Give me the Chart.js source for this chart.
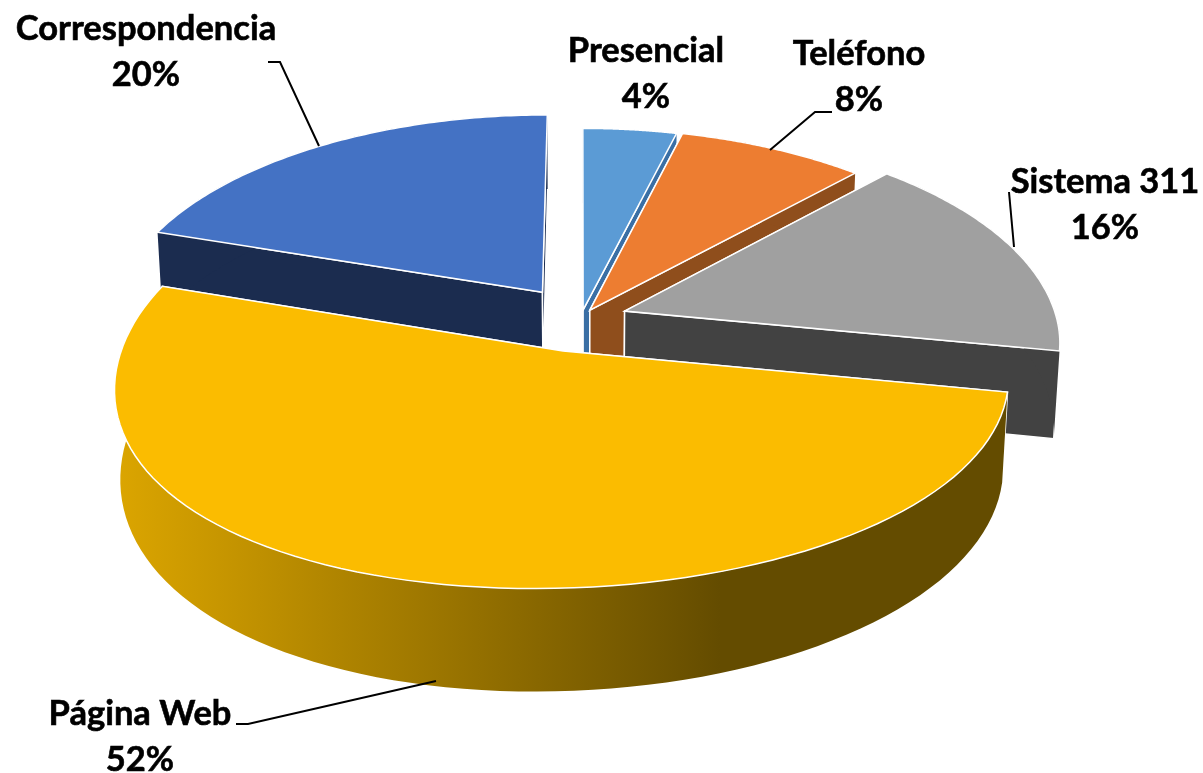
<!DOCTYPE html>
<html lang="es">

<head>
    <meta charset="UTF-8">
    <title>Canales de atencion</title>
    <script src="https://cdn.jsdelivr.net/npm/chart.js"></script>
    <style>
        body { margin: 0; background: #fff; }
        #grafico { display: block; }
    </style>
</head>

<body>
    <canvas id="grafico" width="1203" height="773"></canvas>
</body>
<script>
    var categorias = ['Presencial', 'Teléfono', 'Sistema 311', 'Página Web', 'Correspondencia'];
    var valores = [4, 8, 16, 52, 20];

    var coloresTapa = ['#5B9BD5', '#ED7D31', '#A0A0A0', '#FBBC00', '#4472C4'];
    var coloresLado = ['#3A6FA5', '#8F4E1C', '#424242', '#645000', '#1B2C4F'];
    var separacion = [46, 50, 125, 187, 181];

    // vista 3D de la torta (perspectiva)
    var vista = { cx: 581, cy: 318, rx: 432, ry: 210, q: 0.145, qFrente: 0.09, corte: -16, alto: 87, t: 0.012 };

    // posicion de las etiquetas y sus lineas guia
    var etiquetas = [
        { x: 646, y: 62, guia: null },
        { x: 859, y: 65, guia: [[832, 112], [815, 112], [770, 150]] },
        { x: 1105, y: 193, guia: [[1009, 192], [1014, 247]] },
        { x: 140, y: 725, guia: [[236, 724], [248, 724], [436, 681]] },
        { x: 146, y: 40, guia: [[268, 62], [280, 62], [319, 146]] }
    ];
    var ordenDibujo = [0, 1, 2, 4, 3];

    function proyectar(u, v, z) {
        var s = 1 / (1 - vista.q * v + vista.t * z);
        var sy = v < 0 ? 1 / (1 - vista.q * v) : 1 / (1 - vista.qFrente * v);
        var corte = v > 0 ? vista.corte * v * v : 0;
        return [vista.cx + (vista.rx * u + corte) * s, vista.cy + vista.ry * v * sy + vista.alto * z * s];
    }

    function trazar(ctx, puntos) {
        ctx.beginPath();
        puntos.forEach(function (p, i) {
            if (i == 0) ctx.moveTo(p[0], p[1]);
            else ctx.lineTo(p[0], p[1]);
        });
        ctx.closePath();
    }

    var torta3d = {
        id: 'torta3d',
        beforeDatasetsDraw: function (chart) {
            var ctx = chart.ctx;
            var arcos = chart.getDatasetMeta(0).data;

            ordenDibujo.forEach(function (i) {
                var arco = arcos[i];
                var medio = (arco.startAngle + arco.endAngle) / 2;
                var desp = arco.options.offset / 4 / arco.outerRadius;
                var ou = Math.cos(medio) * desp;
                var ov = Math.sin(medio) * desp;

                var arriba = [], abajo = [];
                var pasos = 90;
                for (var k = 0; k <= pasos; k++) {
                    var a = arco.startAngle + (arco.endAngle - arco.startAngle) * k / pasos;
                    arriba.push(proyectar(ou + Math.cos(a), ov + Math.sin(a), 0));
                    abajo.push(proyectar(ou + Math.cos(a), ov + Math.sin(a), 1));
                }
                var centroA = proyectar(ou, ov, 0);
                var centroB = proyectar(ou, ov, 1);

                // caras rectas
                ctx.fillStyle = coloresLado[i];
                ctx.strokeStyle = '#fff';
                ctx.lineWidth = 1.5;
                [0, pasos].forEach(function (k) {
                    trazar(ctx, [centroA, arriba[k], abajo[k], centroB]);
                    ctx.fill();
                    ctx.stroke();
                });

                // pared exterior
                var relleno = coloresLado[i];
                if (i == 3) {
                    relleno = ctx.createLinearGradient(118, 0, 720, 0);
                    relleno.addColorStop(0, '#DBA500');
                    relleno.addColorStop(1, '#644C00');
                }
                ctx.fillStyle = relleno;
                trazar(ctx, arriba.concat(abajo.slice().reverse()));
                ctx.fill();

                // tapa
                ctx.fillStyle = arco.options.backgroundColor;
                trazar(ctx, [centroA].concat(arriba));
                ctx.fill();
                ctx.strokeStyle = '#fff';
                ctx.lineWidth = 1.5;
                ctx.stroke();
            });
            return false;
        },
        afterDraw: function (chart) {
            var ctx = chart.ctx;
            ctx.save();
            ctx.strokeStyle = '#000';
            ctx.lineWidth = 2;
            etiquetas.forEach(function (e) {
                if (e.guia) {
                    ctx.beginPath();
                    e.guia.forEach(function (p, k) {
                        if (k == 0) ctx.moveTo(p[0], p[1]);
                        else ctx.lineTo(p[0], p[1]);
                    });
                    ctx.stroke();
                }
            });
            ctx.fillStyle = '#000';
            ctx.font = 'bold 34.5px Lato';
            ctx.textAlign = 'center';
            ctx.lineWidth = 0.6;
            etiquetas.forEach(function (e, i) {
                ctx.fillText(categorias[i], e.x, e.y);
                ctx.strokeText(categorias[i], e.x, e.y);
                ctx.fillText(valores[i] + '%', e.x, e.y + 46);
                ctx.strokeText(valores[i] + '%', e.x, e.y + 46);
            });
            ctx.restore();
        }
    };

    var grafico = new Chart(document.getElementById('grafico').getContext('2d'), {
        type: 'pie',
        data: {
            labels: categorias,
            datasets: [{
                data: valores,
                backgroundColor: coloresTapa,
                offset: separacion,
                borderWidth: 0
            }]
        },
        options: {
            responsive: false,
            animation: false,
            plugins: {
                legend: { display: false },
                tooltip: { enabled: false }
            }
        },
        plugins: [torta3d]
    });
</script>

</html>
